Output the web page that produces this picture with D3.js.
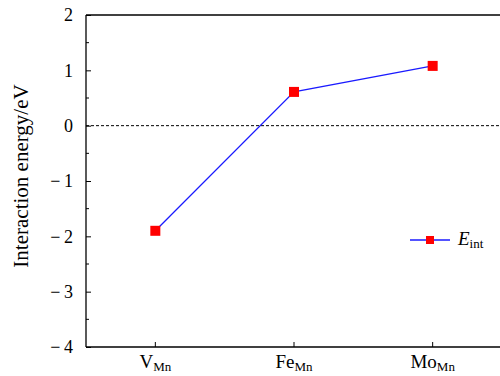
<!DOCTYPE html>
<html>
<head>
<meta charset="utf-8">
<script src="https://cdn.jsdelivr.net/npm/d3@7"></script>
<style>
  html, body { margin: 0; padding: 0; background: #fff; }
  svg text { font-family: "Liberation Serif", "Times New Roman", serif; fill: #000; }
</style>
</head>
<body>
<svg id="chart" width="500" height="376"></svg>
<script>
// Dopant sites (base + subscript) and their interaction energies (eV)
const siteBase = ["V", "Fe", "Mo"];
const siteSub = ["Mn", "Mn", "Mn"];
const energy = [-1.90, 0.61, 1.08];
const yTicks = [-4, -3, -2, -1, 0, 1, 2];
const yMinorTicks = [-3.5, -2.5, -1.5, -0.5, 0.5, 1.5];

const svg = d3.select("#chart");
const margin = { left: 86, top: 15, right: -2, bottom: 29 };
const W = 500, H = 376;
const x0 = margin.left, x1 = W - margin.right;
const y0 = H - margin.bottom, y1 = margin.top;

const x = d3.scaleLinear().domain([0, 3]).range([x0, x1]);
const y = d3.scaleLinear().domain([-4, 2]).range([y0, y1]);

// frame
svg.append("line").attr("x1", x0).attr("x2", x1).attr("y1", y1).attr("y2", y1)
  .attr("stroke", "#000").attr("stroke-width", 1.3);
svg.append("line").attr("x1", x0).attr("x2", x1).attr("y1", y0).attr("y2", y0)
  .attr("stroke", "#000").attr("stroke-width", 1.3);
svg.append("line").attr("x1", x0).attr("x2", x0).attr("y1", y1).attr("y2", y0)
  .attr("stroke", "#000").attr("stroke-width", 1.3);

// y axis (inward ticks)
const yAxis = d3.axisLeft(y).tickValues(yTicks).tickSize(-5).tickPadding(13)
  .tickFormat(d => d < 0 ? "\u2212\u2009" + Math.abs(d) : String(d));
const gy = svg.append("g").attr("transform", `translate(${x0},0)`).call(yAxis);
gy.attr("font-family", null);
gy.select(".domain").remove();
gy.selectAll("line").attr("stroke", "#000").attr("stroke-width", 1);
gy.selectAll("text").attr("font-size", 18)
  .style("font-family", "'Liberation Serif', serif");

svg.append("g").selectAll("line").data(yMinorTicks).join("line")
  .attr("x1", x0).attr("x2", x0 + 3)
  .attr("y1", d => y(d)).attr("y2", d => y(d))
  .attr("stroke", "#000").attr("stroke-width", 1);

// x axis (inward ticks at category centres)
const gx = svg.append("g");
gx.selectAll("line").data(siteBase).join("line")
  .attr("x1", (d, i) => x(i + 0.5)).attr("x2", (d, i) => x(i + 0.5))
  .attr("y1", y0).attr("y2", y0 - 5)
  .attr("stroke", "#000").attr("stroke-width", 1);
const lab = gx.selectAll("text").data(siteBase).join("text")
  .attr("x", (d, i) => x(i + 0.5)).attr("y", y0 + 21)
  .attr("text-anchor", "middle").attr("font-size", 19);
lab.append("tspan").text(d => d);
lab.append("tspan").attr("font-size", 13).attr("dy", 3).text((d, i) => siteSub[i]);

// zero reference line
svg.append("line").attr("x1", x0).attr("x2", x1)
  .attr("y1", y(0)).attr("y2", y(0))
  .attr("stroke", "#000").attr("stroke-width", 1).attr("stroke-dasharray", "3,2");

// series
const pts = energy.map((v, i) => [x(i + 0.5), y(v)]);
svg.append("path").attr("d", d3.line()(pts))
  .attr("fill", "none").attr("stroke", "#1a1aff").attr("stroke-width", 1.3);
svg.append("g").selectAll("rect").data(pts).join("rect")
  .attr("x", d => d[0] - 5).attr("y", d => d[1] - 5)
  .attr("width", 10).attr("height", 10).attr("fill", "#ff0000");

// legend
const ly = 240;
svg.append("line").attr("x1", 410).attr("x2", 450).attr("y1", ly).attr("y2", ly)
  .attr("stroke", "#1a1aff").attr("stroke-width", 1.3);
svg.append("rect").attr("x", 426).attr("y", ly - 4).attr("width", 8).attr("height", 8).attr("fill", "#ff0000");
const lt = svg.append("text").attr("x", 458).attr("y", ly + 5).attr("font-size", 19);
lt.append("tspan").attr("font-style", "italic").text("E");
lt.append("tspan").attr("font-size", 13).attr("dy", 3).text("int");

// y label
svg.append("text")
  .attr("transform", `translate(28,176) rotate(-90)`)
  .attr("text-anchor", "middle").attr("font-size", 21)
  .text("Interaction energy/eV");
</script>
</body>
</html>
